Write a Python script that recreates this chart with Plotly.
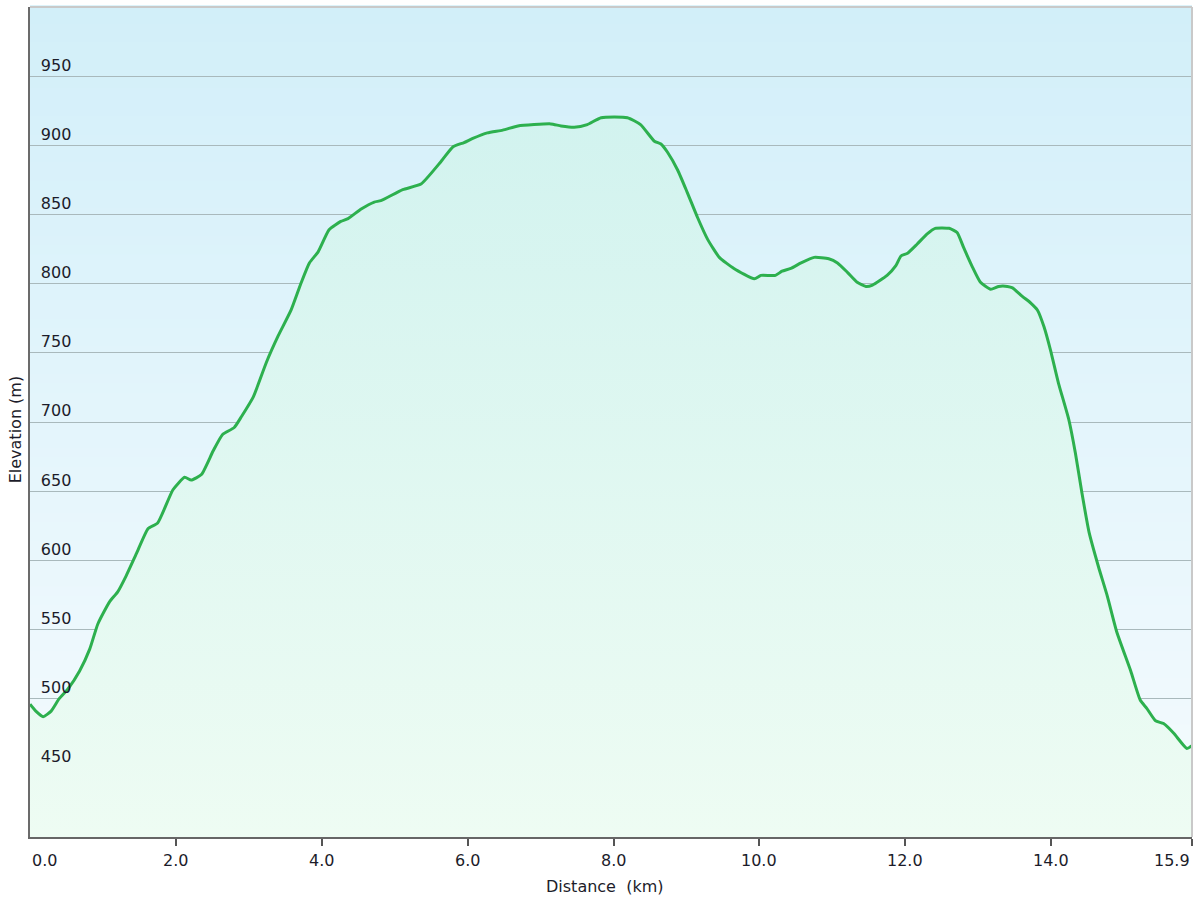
import plotly.graph_objects as go

# ---- data ----
distance_km = [
    0.00, 0.08, 0.18, 0.29, 0.40, 0.52, 0.68, 0.82, 0.93, 1.09, 1.20, 1.32, 1.46, 1.62, 1.75,
    1.96, 2.12, 2.21, 2.35, 2.51, 2.64, 2.80, 2.90, 3.06, 3.12, 3.24, 3.40, 3.58, 3.72, 3.83,
    3.95, 4.10, 4.26, 4.36, 4.54, 4.72, 4.81, 5.11, 5.36, 5.63, 5.80, 5.95, 6.07, 6.27, 6.48,
    6.69, 6.91, 7.14, 7.28, 7.46, 7.64, 7.83, 8.19, 8.37, 8.56, 8.65, 8.74, 8.88, 9.01, 9.15,
    9.29, 9.45, 9.65, 9.93, 10.02, 10.22, 10.31, 10.43, 10.57, 10.75, 10.95, 11.07, 11.21, 11.34,
    11.46, 11.55, 11.75, 11.87, 11.94, 12.03, 12.16, 12.30, 12.41, 12.60, 12.71, 12.80, 12.92,
    13.03, 13.17, 13.28, 13.40, 13.47, 13.60, 13.72, 13.81, 13.90, 13.99, 14.10, 14.24, 14.33,
    14.42, 14.52, 14.65, 14.77, 14.90, 15.09, 15.22, 15.31, 15.43, 15.54, 15.68, 15.86, 15.93,
]
elevation_m = [
    496, 491, 487, 491, 500, 507, 520, 536, 554, 570, 577, 589, 605, 623, 627,
    651, 660, 658, 662, 679, 691, 696, 704, 718, 726, 743, 762, 781, 801, 815,
    823, 839, 845, 847, 854, 859, 860, 868, 872, 888, 899, 902, 905, 909, 911,
    914, 915, 915.5, 914, 913, 915, 920, 920, 915, 903, 901, 895, 882, 866, 848,
    832, 819, 811, 803.5, 806, 806, 809, 811, 815, 819, 818, 815, 808, 801,
    798, 799, 806, 813, 820, 822, 828.5, 836, 840, 840, 837, 826, 812,
    801, 796, 798, 798, 797, 791, 786, 781, 769, 752, 728, 702, 678,
    649, 620, 595, 574, 548, 520, 499, 493, 484, 482, 475, 464, 466,
]

x_tick_values = [0.0, 2.0, 4.0, 6.0, 8.0, 10.0, 12.0, 14.0, 15.93]
x_tick_labels = ["0.0", "2.0", "4.0", "6.0", "8.0", "10.0", "12.0", "14.0", "15.9"]
y_tick_values = [450, 500, 550, 600, 650, 700, 750, 800, 850, 900, 950]
y_tick_labels = ["450", "500", "550", "600", "650", "700", "750", "800", "850", "900", "950"]

x_title = "Distance  (km)"
y_title = "Elevation (m)"

FONT = "DejaVu Sans"
TXT = "#1c1c2a"
FS = 16

fig = go.Figure()
fig.add_trace(go.Scatter(
    x=distance_km, y=elevation_m, mode="lines",
    line=dict(color="#2db04e", width=3, shape="spline", smoothing=0.5),
    fill="tozeroy",
    fillgradient=dict(type="vertical", start=400, stop=920,
                      colorscale=[[0, "#eefcf3"], [1, "#d2f3ef"]]),
    hoverinfo="x+y", showlegend=False,
))

# background vertical gradient (light blue at top to near-white at bottom)
def lerp(c1, c2, t):
    return "rgb(%d,%d,%d)" % tuple(round(a + (b - a) * t) for a, b in zip(c1, c2))

top_c = (210, 239, 249)
bot_c = (245, 251, 254)
n = 90
shapes = []
for i in range(n):
    t = i / (n - 1)
    shapes.append(dict(type="rect", xref="paper", yref="paper",
                       x0=0, x1=1, y0=1 - (i + 1) / n, y1=1 - i / n + 0.002,
                       fillcolor=lerp(top_c, bot_c, t), line=dict(width=0), layer="below"))
# light frame on top and right
shapes.append(dict(type="line", xref="paper", yref="paper", x0=0, x1=1, y0=1, y1=1,
                   line=dict(color="#c9c9c9", width=2), layer="above"))
shapes.append(dict(type="line", xref="paper", yref="paper", x0=1, x1=1, y0=0, y1=1,
                   line=dict(color="#c9c9c9", width=2), layer="above"))

annotations = []
for v, lab in zip(x_tick_values, x_tick_labels):
    anchor = "center"
    if v == x_tick_values[0]:
        anchor = "left"
    elif v == x_tick_values[-1]:
        anchor = "right"
    annotations.append(dict(x=v, y=0, xref="x", yref="paper", text=lab, showarrow=False,
                            xanchor=anchor, yanchor="top", yshift=-12,
                            font=dict(family=FONT, size=FS, color=TXT)))
annotations.append(dict(x=0.494, y=0, xref="paper", yref="paper", text=x_title,
                        showarrow=False, xanchor="center", yanchor="middle", yshift=-49,
                        font=dict(family=FONT, size=FS, color=TXT)))
annotations.append(dict(x=0, y=0.49, xref="paper", yref="paper", text=y_title,
                        showarrow=False, xanchor="center", yanchor="middle", xshift=-15,
                        textangle=-90, font=dict(family=FONT, size=FS, color=TXT)))

fig.update_layout(
    width=1200, height=900,
    margin=dict(l=30, r=8, t=7, b=63),
    paper_bgcolor="white", plot_bgcolor="white",
    shapes=shapes, annotations=annotations,
    xaxis=dict(range=[0, 15.93], tickvals=x_tick_values, showticklabels=False,
               ticks="outside", ticklen=7, tickwidth=2, tickcolor="#555555",
               showline=True, linecolor="#666666", linewidth=2,
               showgrid=False, zeroline=False, fixedrange=True),
    yaxis=dict(range=[400, 1000], tickvals=y_tick_values, ticktext=y_tick_labels,
               ticklabelposition="inside top", ticks="", ticklabelstandoff=10,
               tickfont=dict(family=FONT, size=FS, color=TXT),
               showline=True, linecolor="#6b6b6b", linewidth=2,
               showgrid=True, gridcolor="#a9b9bc", gridwidth=1.3,
               zeroline=False, fixedrange=True),
    font=dict(family=FONT, color=TXT),
)

fig.write_html("out.html", config={"displayModeBar": False},
               post_script="document.body.style.margin='0';document.body.style.overflow='hidden';")
